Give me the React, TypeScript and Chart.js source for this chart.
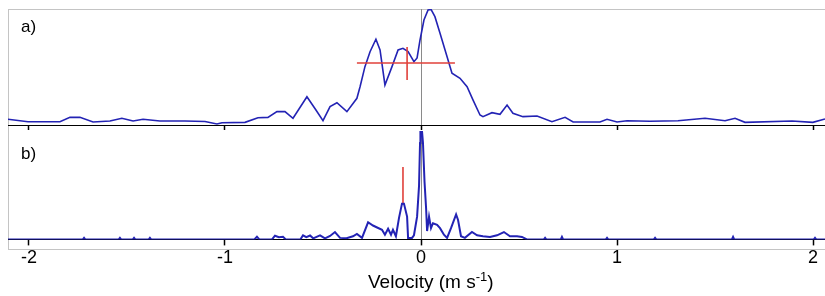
import React, { useEffect, useRef } from 'react';
import { Chart, registerables } from 'chart.js';

Chart.register(...registerables);

// ---- data ----
const xRange = [-2.107, 2.061];
const tickValues = [-2, -1, 0, 1, 2];
const tickLabels = ['-2', '-1', '0', '1', '2'];
const axisTitleMain = 'Velocity (m s';
const axisTitleSup = '-1';
const axisTitleEnd = ')';
const panelLabels = ['a)', 'b)'];

// panel a: smoothed spectrum
const velocityA = [
  -2.107, -2.005, -1.842, -1.791, -1.74, -1.673, -1.587, -1.526, -1.469, -1.418, -1.332, -1.204,
  -1.102, -1.041, -1.015, -0.898, -0.832, -0.781, -0.735, -0.694, -0.653, -0.582, -0.536, -0.5,
  -0.464, -0.429, -0.378, -0.327, -0.311, -0.286, -0.26, -0.23, -0.209, -0.184, -0.148, -0.117,
  -0.092, -0.066, -0.036, -0.02, -0.005, 0.015, 0.036, 0.051, 0.071, 0.097, 0.133, 0.158, 0.199,
  0.235, 0.265, 0.301, 0.316, 0.362, 0.403, 0.439, 0.469, 0.52, 0.592, 0.668, 0.735, 0.776, 0.913,
  0.949, 1.0, 1.051, 1.168, 1.311, 1.449, 1.551, 1.602, 1.653, 1.893, 1.999, 2.061,
];
const intensityA = [
  0.049, 0.028, 0.028, 0.066, 0.066, 0.026, 0.034, 0.058, 0.034, 0.049, 0.034, 0.034,
  0.03, 0.009, 0.02, 0.023, 0.063, 0.066, 0.115, 0.116, 0.058, 0.244, 0.129, 0.037,
  0.158, 0.192, 0.115, 0.23, 0.33, 0.503, 0.632, 0.739, 0.647, 0.345, 0.503, 0.647,
  0.661, 0.632, 0.546, 0.578, 0.733, 0.905, 0.991, 0.997, 0.934, 0.791, 0.589, 0.446, 0.403,
  0.33, 0.216, 0.086, 0.072, 0.106, 0.092, 0.172, 0.101, 0.072, 0.078, 0.028, 0.066, 0.026, 0.026,
  0.049, 0.026, 0.037, 0.032, 0.037, 0.058, 0.037, 0.058, 0.023, 0.034, 0.023, 0.052,
];

// panel b: high-resolution spectrum
const velocityB = [
  -2.11, -1.725, -1.719, -1.713, -1.542, -1.536, -1.53, -1.47, -1.464, -1.458, -1.389, -1.383, -1.377,
  -0.85, -0.837, -0.825, -0.76, -0.745, -0.725, -0.704, -0.69, -0.615, -0.602, -0.585, -0.566, -0.55,
  -0.515, -0.49, -0.464, -0.439, -0.413, -0.38, -0.347, -0.327, -0.301, -0.27, -0.245, -0.224, -0.199,
  -0.184, -0.168, -0.153, -0.143, -0.128, -0.112, -0.097, -0.087, -0.071, -0.066, -0.046, -0.036, -0.02,
  -0.01, -0.005, -0.003, 0.005, 0.01, 0.018, 0.026, 0.031, 0.041, 0.051, 0.061, 0.082, 0.097, 0.117, 0.133, 0.153,
  0.179, 0.189, 0.204, 0.224, 0.26, 0.286, 0.316, 0.352, 0.388, 0.423, 0.454, 0.49, 0.515, 0.54, 0.627,
  0.633, 0.639, 0.713, 0.719, 0.725, 0.943, 0.949, 0.955, 1.188, 1.194, 1.2, 1.586, 1.592, 1.598, 2.004,
  2.01, 2.016, 2.07,
];
const intensityB = [
  0, 0, 0.014, 0, 0, 0.014, 0, 0, 0.014, 0, 0, 0.014, 0,
  0, 0.025, 0, 0, 0.034, 0.02, 0.025, 0, 0, 0.038, 0.02, 0.036, 0.01,
  0.038, 0.01, 0.032, 0.068, 0.014, 0.01, 0.029, 0.05, 0.014, 0.158, 0.128, 0.11, 0.089,
  0.043, 0.098, 0.043, 0.089, 0.029, 0.201, 0.33, 0.33, 0.21, 0.014, 0.014, 0.038, 0.21,
  0.496, 0.889, 1.0, 1.0, 0.891, 0.529, 0.285, 0.077, 0.21, 0.104, 0.149, 0.134, 0.104, 0.043, 0.014, 0.104,
  0.231, 0.179, 0.029, 0.014, 0.068, 0.038, 0.029, 0.023, 0.038, 0.068, 0.029, 0.029, 0.023, 0, 0,
  0.014, 0, 0, 0.023, 0, 0, 0.014, 0, 0, 0.014, 0, 0, 0.023, 0, 0,
  0.014, 0, 0,
];

// red markers
const markerAHorizX = [-0.327, 0.173];
const markerAHorizY = [0.534, 0.534];
const markerAVertX = [-0.071, -0.071];
const markerAVertY = [0.388, 0.672];
const markerBVertX = [-0.092, -0.092];
const markerBVertY = [0.33, 0.667];

// ---- styling ----
const BLUE = '#2323b4';
const RED = '#e0403a';
const FONT = '"Liberation Sans", Arial, sans-serif';

const zip = (xs: number[], ys: number[]) => xs.map((x, i) => ({ x, y: ys[i] }));

function panelLabelPlugin(text: string, x: number, y: number) {
  return {
    id: 'panelLabel' + text,
    afterDraw(chart: any) {
      const ctx = chart.ctx;
      ctx.save();
      ctx.font = `17px ${FONT}`;
      ctx.fillStyle = '#000';
      ctx.textBaseline = 'alphabetic';
      ctx.fillText(text, chart.chartArea.left + x, chart.chartArea.top + y);
      ctx.restore();
    },
  };
}

function xScale(showLabels: boolean, tickLength: number) {
  return {
    type: 'linear' as const,
    min: xRange[0],
    max: xRange[1],
    afterBuildTicks: (scale: any) => {
      scale.ticks = tickValues.map((v) => ({ value: v }));
    },
    grid: {
      display: true,
      drawOnChartArea: true,
      drawTicks: true,
      tickLength,
      lineWidth: 1,
      color: (c: any) => (c.tick && c.tick.value === 0 ? '#8a8a8a' : 'rgba(0,0,0,0)'),
      tickColor: '#000',
      tickWidth: 1.5,
    },
    border: { display: true, color: '#000', width: 1 },
    ticks: {
      display: showLabels,
      padding: 2,
      color: '#000',
      maxRotation: 0,
      font: { family: FONT, size: 18 },
      callback: (v: any) => {
        const i = tickValues.indexOf(Number(v));
        return i >= 0 ? tickLabels[i] : '';
      },
    },
    title: { display: false },
  };
}

const yScale = {
  display: false,
  min: 0,
  max: 1,
};

export default function App() {
  const refA = useRef<HTMLCanvasElement | null>(null);
  const refB = useRef<HTMLCanvasElement | null>(null);

  useEffect(() => {
    if (!refA.current || !refB.current) return;
    const common = {
      responsive: false,
      animation: false as const,
      devicePixelRatio: 1,
      plugins: { legend: { display: false }, tooltip: { enabled: false }, title: { display: false } },
      elements: { point: { radius: 0 }, line: { tension: 0 } },
    };

    const chartA = new Chart(refA.current, {
      type: 'line',
      data: {
        datasets: [
          { data: zip(markerAHorizX, markerAHorizY), borderColor: RED, borderWidth: 1.6 },
          { data: zip(markerAVertX, markerAVertY), borderColor: RED, borderWidth: 1.6 },
          { data: zip(velocityA, intensityA), borderColor: BLUE, borderWidth: 1.6 },
        ],
      },
      options: {
        ...common,
        layout: { padding: 0 },
        parsing: false,
        scales: { x: xScale(false, 5), y: yScale },
      } as any,
      plugins: [panelLabelPlugin(panelLabels[0], 13, 23)],
    });

    const chartB = new Chart(refB.current, {
      type: 'line',
      data: {
        datasets: [
          { data: zip(velocityB, intensityB), borderColor: BLUE, borderWidth: 2 },
          { data: zip(markerBVertX, markerBVertY), borderColor: RED, borderWidth: 1.6 },
        ],
      },
      options: {
        ...common,
        layout: { padding: { left: 0, right: 0, top: 0, bottom: 25 } },
        parsing: false,
        scales: { x: xScale(true, 6), y: yScale },
      } as any,
      plugins: [panelLabelPlugin(panelLabels[1], 13, 28)],
    });

    return () => {
      chartA.destroy();
      chartB.destroy();
    };
  }, []);

  return (
    <div
      style={{
        position: 'fixed',
        left: 0,
        top: 0,
        width: 825,
        height: 296,
        background: '#fff',
        overflow: 'hidden',
      }}
    >
      <div
        style={{
          position: 'absolute',
          left: 8,
          top: 9,
          width: 817,
          height: 241,
          boxSizing: 'border-box',
          borderTop: '1px solid #c4c4c4',
          borderLeft: '1px solid #c4c4c4',
          borderBottom: '1px solid #c4c4c4',
        }}
      />
      <canvas
        ref={refA}
        width={817}
        height={121}
        style={{ position: 'absolute', left: 8, top: 9, width: 817, height: 121 }}
      />
      <canvas
        ref={refB}
        width={817}
        height={165}
        style={{ position: 'absolute', left: 8, top: 131, width: 817, height: 165 }}
      />
      <div
        style={{
          position: 'absolute',
          left: 368,
          top: 272,
          fontFamily: FONT,
          fontSize: 19,
          lineHeight: '19px',
          color: '#000',
          whiteSpace: 'nowrap',
        }}
      >
        {axisTitleMain}
        <span style={{ fontSize: 13, position: 'relative', top: -7 }}>{axisTitleSup}</span>
        {axisTitleEnd}
      </div>
    </div>
  );
}
